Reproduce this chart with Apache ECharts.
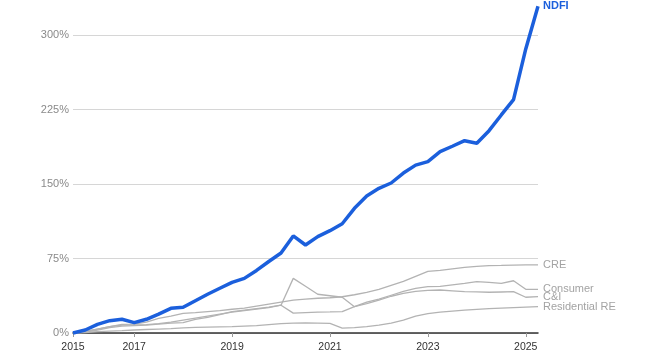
<!DOCTYPE html>
<html>
<head>
<meta charset="utf-8">
<script src="https://cdn.jsdelivr.net/npm/echarts@6/dist/echarts.min.js"></script>
<style>
  html, body { margin: 0; padding: 0; background: #fff; }
  #chart { width: 650px; height: 362px; }
</style>
</head>
<body>
<div id="chart"></div>
<script>
const quarters = [
  "2015 Q4",
  "2016 Q1","2016 Q2","2016 Q3","2016 Q4",
  "2017 Q1","2017 Q2","2017 Q3","2017 Q4",
  "2018 Q1","2018 Q2","2018 Q3","2018 Q4",
  "2019 Q1","2019 Q2","2019 Q3","2019 Q4",
  "2020 Q1","2020 Q2","2020 Q3","2020 Q4",
  "2021 Q1","2021 Q2","2021 Q3","2021 Q4",
  "2022 Q1","2022 Q2","2022 Q3","2022 Q4",
  "2023 Q1","2023 Q2","2023 Q3","2023 Q4",
  "2024 Q1","2024 Q2","2024 Q3","2024 Q4",
  "2025 Q1","2025 Q2"
];
const tickQuarters = ["2015 Q4","2017 Q1","2019 Q1","2021 Q1","2023 Q1","2025 Q1"];
const tickLabels   = ["2015","2017","2019","2021","2023","2025"];

const ndfi = [0, 3, 8.7, 12.4, 13.8, 10.4, 13.8, 19, 24.8, 25.9, 32.5, 39, 45, 51, 55, 63, 72, 80.5,
  97.7, 88.6, 97, 103, 110, 125.5, 138, 145.7, 151, 161, 169, 172.5, 182.5, 188, 193.6, 191,
  203.7, 219.5, 235, 286, 329];
const cre = [0, 1.5, 4, 6.4, 8.7, 9, 11, 14.8, 17, 19.8, 20.5, 21.5, 22.5, 23.9, 25, 27, 29, 31,
  33, 34, 35, 35.5, 36.5, 38.5, 41, 44, 48, 52, 57, 62, 63, 64.5, 66, 67, 67.8, 68, 68.3, 68.5, 68.5];
const consumer = [0, 1.5, 4, 6.5, 8, 8.2, 8.5, 9.5, 11, 13, 15, 17, 19, 21, 22.5, 24, 25.5, 28,
  20, 20.5, 21, 21.2, 21.5, 26.5, 31, 34, 38, 42, 45, 46.6, 47, 48.5, 50, 51.7, 51, 50, 52.6, 44, 44];
const cni = [0, 1, 3, 5.5, 7, 7.5, 8, 9, 10, 10.4, 13.8, 15.8, 18.5, 21.5, 23, 24.5, 26, 28,
  55, 47, 39, 37.5, 36, 26.5, 29.5, 33, 37, 40, 42, 43, 43.3, 42.5, 41.6, 41.5, 41, 41.3, 41.6, 36, 36.6];
const residential = [0, 0.5, 1.3, 1.8, 2.3, 3, 3.5, 4, 4.5, 5.2, 5.7, 6, 6.2, 6.4, 7, 7.5, 8.5, 9.5,
  10, 10.2, 10, 9.7, 5, 5.5, 6.5, 8, 10, 13, 17, 19.5, 21, 22, 23, 23.8, 24.5, 25, 25.5, 26, 26.5];

const FONT = '"Liberation Sans", Arial, sans-serif';
const GRAY_LINE = '#b3b3b3';
const GRAY_TEXT = '#a3a3a3';
const BLUE = '#1b5fdc';

function isTick(index, value) { return tickQuarters.indexOf(value) >= 0; }

function graySeries(name, data) {
  return {
    name: name, type: 'line', data: data, symbol: 'none', clip: false,
    lineStyle: { color: GRAY_LINE, width: 1.3 },
    itemStyle: { color: GRAY_LINE },
    emphasis: { disabled: true },
    endLabel: { show: true, formatter: name, color: GRAY_TEXT, fontFamily: FONT, fontSize: 11, distance: 5 },
    z: 2
  };
}

const chart = echarts.init(document.getElementById('chart'), null, { renderer: 'canvas' });
chart.setOption({
  animation: false,
  backgroundColor: '#fff',
  grid: { left: 73, right: 112, top: 35, bottom: 29, containLabel: false },
  xAxis: {
    type: 'category', data: quarters, boundaryGap: false,
    axisLine: { show: true, lineStyle: { color: '#333', width: 1.5 } },
    axisTick: { show: true, interval: isTick, length: 4, lineStyle: { color: '#999', width: 1 } },
    axisLabel: {
      interval: isTick, color: '#333', fontFamily: FONT, fontSize: 10.5, margin: 9,
      formatter: function (v) { const i = tickQuarters.indexOf(v); return i >= 0 ? tickLabels[i] : ''; }
    },
    splitLine: { show: false }
  },
  yAxis: {
    type: 'value', min: 0, max: 300, interval: 75,
    axisLine: { show: false }, axisTick: { show: false },
    axisLabel: { formatter: '{value}%', color: '#8a8a8a', fontFamily: FONT, fontSize: 11, margin: 4 },
    splitLine: { lineStyle: { color: '#d6d6d6', width: 1 } }
  },
  series: [
    graySeries('CRE', cre),
    graySeries('Consumer', consumer),
    graySeries('C&I', cni),
    graySeries('Residential RE', residential),
    {
      name: 'NDFI', type: 'line', data: ndfi, symbol: 'none', clip: false,
      lineStyle: { color: BLUE, width: 3.5 },
      itemStyle: { color: BLUE },
      emphasis: { disabled: true },
      endLabel: { show: true, formatter: 'NDFI', color: BLUE, fontWeight: 'bold', fontFamily: FONT, fontSize: 11, distance: 5 },
      z: 5
    }
  ]
});
</script>
</body>
</html>
